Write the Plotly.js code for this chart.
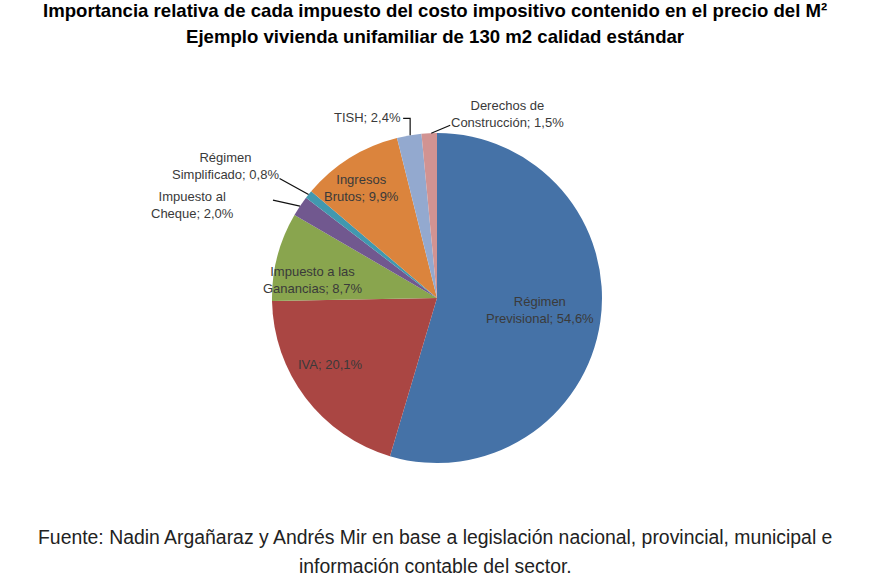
<!DOCTYPE html>
<html>
<head>
<meta charset="utf-8">
<script src="https://cdn.plot.ly/plotly-3.0.1.min.js"></script>
<style>html,body{margin:0;padding:0;background:#fff;}#chart{width:870px;height:580px;}</style>
</head>
<body>
<div id="chart"></div>
<script>
// ---- data ----
const categories = ['Régimen Previsional','IVA','Impuesto a las Ganancias','Impuesto al Cheque','Régimen Simplificado','Ingresos Brutos','TISH','Derechos de Construcción'];
const values = [54.6, 20.1, 8.7, 2.0, 0.8, 9.9, 2.4, 1.5];
const valueLabels = ['54,6%','20,1%','8,7%','2,0%','0,8%','9,9%','2,4%','1,5%'];
const labelLines = ['Régimen<br>Previsional','IVA','Impuesto a las<br>Ganancias','Impuesto al<br>Cheque','Régimen<br>Simplificado','Ingresos<br>Brutos','TISH','Derechos de<br>Construcción'];
const colors = ['#4572A7','#AA4643','#89A54E','#71588F','#4198AF','#DB843D','#93A9CF','#D19392'];

// ---- layout/style ----
const W = 870, H = 580;
const cx = 437, cy = 298, R = 165;
const FONT = '"Liberation Sans", Arial, sans-serif';
// label placement: inside (radius fraction + pixel shift) or outside (label offset + leader path, px from slice edge)
const place = [
  {mode:'in', r:0.63, dx:0, dy:-3},
  {mode:'in', r:0.75, dx:-8, dy:-8},
  {mode:'in', r:0.78, dx:0, dy:14},
  {mode:'out', lx:-107, ly:-1, path:[[-27,-6],[0,0]]},
  {mode:'out', lx:-83, ly:-28, path:[[-29,-16],[0,0]]},
  {mode:'in', r:0.8, dx:-6, dy:2},
  {mode:'out', lx:-42, ly:-18, path:[[-6,-17],[1,-17],[1,0]]},
  {mode:'out', lx:78, ly:-19, path:[[21,-8],[2,0]]}
];

const total = values.reduce((a,b)=>a+b,0);
const annotations = [], shapes = [];
let cum = 0;
const toX = px => px/W, toY = py => 1-py/H;
values.forEach((v,i)=>{
  const mid = (cum + v/2)/total * 2*Math.PI; cum += v;
  const s = Math.sin(mid), c = Math.cos(mid);
  const p = place[i];
  const txt = labelLines[i] + '; ' + valueLabels[i];
  const font = {family:FONT, size:13, color:'#3a3a3a'};
  if (p.mode === 'in') {
    const px = cx + s*R*p.r, py = cy - c*R*p.r;
    annotations.push({x:toX(px), y:toY(py), xref:'paper', yref:'paper', text:txt, showarrow:false,
      xanchor:'center', yanchor:'middle', xshift:p.dx, yshift:-p.dy, font:font, align:'center'});
  } else {
    const px = cx + s*R, py = cy - c*R;
    annotations.push({x:toX(px+p.lx), y:toY(py+p.ly), xref:'paper', yref:'paper', text:txt, showarrow:false,
      xanchor:'center', yanchor:'middle', font:font, align:'center'});
    const d = p.path.map((q,k)=>(k?'L':'M')+toX(px+q[0]).toFixed(5)+','+toY(py+q[1]).toFixed(5)).join(' ');
    shapes.push({type:'path', xref:'paper', yref:'paper', path:d, line:{color:'#111', width:1.2}});
  }
});

const head = {xref:'paper', yref:'paper', showarrow:false, xanchor:'center', yanchor:'middle', x:0.5};
annotations.push(Object.assign({}, head, {y:1-10/H,
  text:'<b>Importancia relativa de cada impuesto del costo impositivo contenido en el precio del M²</b>',
  font:{family:FONT, size:18.6, color:'#000'}}));
annotations.push(Object.assign({}, head, {y:1-37/H,
  text:'<b>Ejemplo vivienda unifamiliar de 130 m2 calidad estándar</b>',
  font:{family:FONT, size:18.6, color:'#000'}}));
annotations.push(Object.assign({}, head, {y:1-537/H,
  text:'Fuente: Nadin Argañaraz y Andrés Mir en base a legislación nacional, provincial, municipal e',
  font:{family:FONT, size:19.4, color:'#222'}}));
annotations.push(Object.assign({}, head, {y:1-566/H,
  text:'información contable del sector.',
  font:{family:FONT, size:19.4, color:'#222'}}));

const trace = {
  type:'pie', labels:categories, values:values, sort:false, direction:'clockwise', rotation:0,
  marker:{colors:colors, line:{width:0}}, textinfo:'none', hoverinfo:'label+percent',
  domain:{x:[(cx-R)/W,(cx+R)/W], y:[1-(cy+R)/H, 1-(cy-R)/H]}, showlegend:false
};

Plotly.newPlot('chart',[trace],{
  width:W, height:H, margin:{l:0,r:0,t:0,b:0}, paper_bgcolor:'#fff', plot_bgcolor:'#fff',
  showlegend:false, annotations:annotations, shapes:shapes
},{displayModeBar:false, staticPlot:true});
</script>
</body>
</html>
